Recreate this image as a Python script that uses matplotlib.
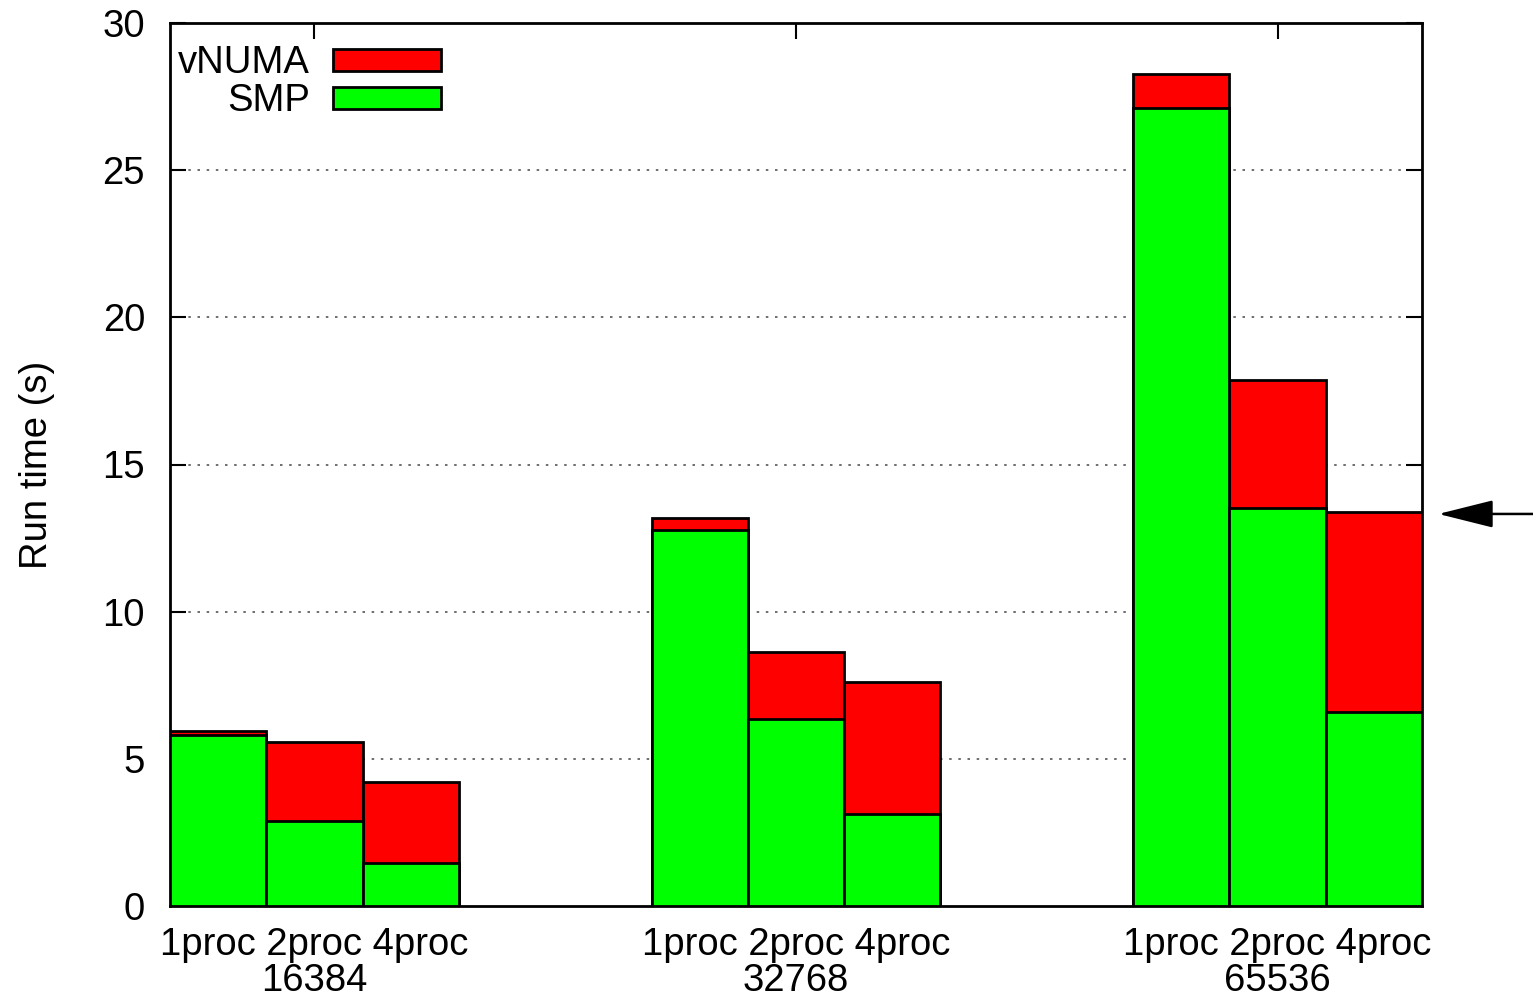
import numpy as np
import matplotlib
matplotlib.use("Agg")
from matplotlib import pyplot as plt

plt.rcParams['font.family'] = ['Liberation Sans', 'DejaVu Sans']

SIZES = ['16384', '32768', '65536']
PROCS = ['1proc', '2proc', '4proc']
# run time (s) per size group, per proc count
smp = [[5.82, 2.90, 1.45],
       [12.78, 6.35, 3.13],
       [27.10, 13.51, 6.58]]
vnuma = [[5.93, 5.58, 4.21],
         [13.17, 8.64, 7.60],
         [28.27, 17.87, 13.40]]
arrow_y = 13.32

GROUP_GAP = 5
FS = 27.5

fig = plt.figure(figsize=(15.33, 10), dpi=100)
ax = fig.add_axes([0.1109, 0.094, 0.8167, 0.883])

for g in range(len(SIZES)):
    x = g * GROUP_GAP + np.arange(len(PROCS)) - 1
    ax.bar(x, vnuma[g], width=1.0, color='#ff0000', edgecolor='black',
           linewidth=2.0, zorder=2, label='vNUMA' if g == 0 else None)
    ax.bar(x, smp[g], width=1.0, color='#00ff00', edgecolor='black',
           linewidth=2.0, zorder=3, label='SMP' if g == 0 else None)

ax.set_xlim(-1.5, 2 * GROUP_GAP + 1.5)
ax.set_ylim(0, 30)
ax.set_yticks(range(0, 31, 5))
ax.set_xticks([g * GROUP_GAP for g in range(len(SIZES))])
ax.set_xticklabels([' '.join(PROCS) + '\n' + s for s in SIZES], linespacing=1.0)
ax.tick_params(axis='both', direction='in', length=11.5, width=1.5,
               labelsize=FS, top=True, right=True)
ax.tick_params(axis='x', pad=15)
ax.tick_params(axis='y', pad=18)
for sp in ax.spines.values():
    sp.set_linewidth(2.0)

for v in range(5, 30, 5):
    ax.axhline(v, color='#555555', linestyle=(0, (1.5, 4)), linewidth=1.2, zorder=1)

ax.set_ylabel('Run time (s)', fontsize=FS, labelpad=34)

ax.legend(loc='upper left', bbox_to_anchor=(-0.006, 0.992), frameon=False,
          markerfirst=False, fontsize=FS, handlelength=2.85, handleheight=0.5,
          labelspacing=0.05, handletextpad=0.6, borderaxespad=0)

ax.annotate('', xy=(11.67, arrow_y), xytext=(12.65, arrow_y), xycoords='data',
            annotation_clip=False,
            arrowprops=dict(arrowstyle='-|>,head_length=1.0,head_width=0.25',
                            mutation_scale=34.5, lw=1.8, color='black',
                            shrinkA=0, shrinkB=0))

fig.savefig('out.png', dpi=100)
